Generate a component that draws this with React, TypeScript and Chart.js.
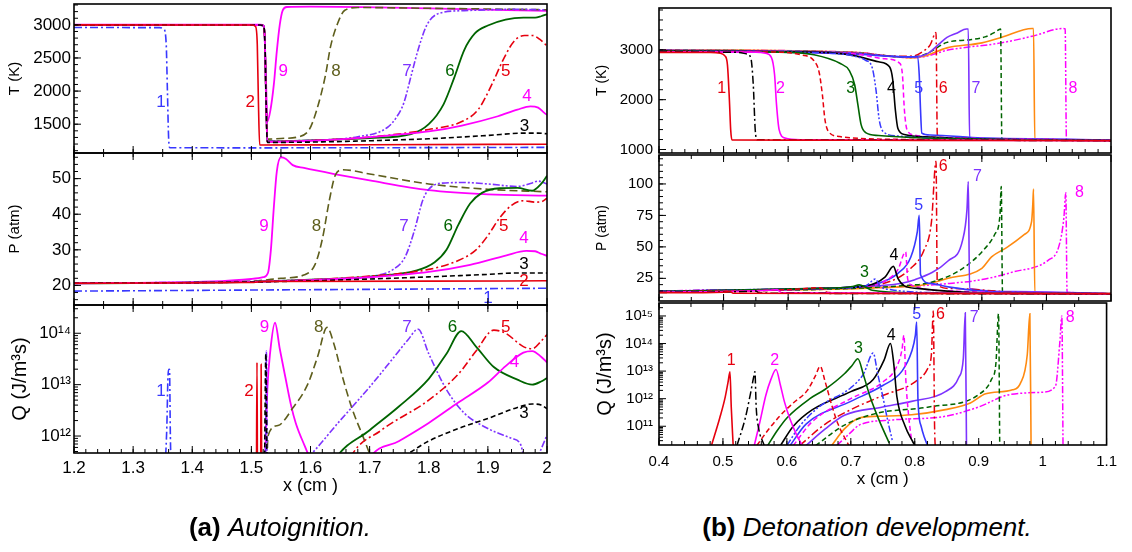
import React, { useEffect, useRef } from 'react';
import { Chart, registerables } from 'chart.js';

Chart.register(...registerables);
const FONT = "'Liberation Sans', Arial, Helvetica, sans-serif";
Chart.defaults.font.family = FONT;

// ---------------- (a) Autoignition data ----------------
const aXTicks = [1.2, 1.3, 1.4, 1.5, 1.6, 1.7, 1.8, 1.9, 2.0];
const aTTicks = [1500, 2000, 2500, 3000];
const aPTicks = [20, 30, 40, 50];
const aQTicks = [1e12, 1e13, 1e14];

const aT1 = [[1.2,2960],[1.345,2958],[1.352,2935],[1.356,2700],[1.358,2000],[1.36,1300],[1.362,1145],[1.5,1143],[1.8,1146],[2.0,1150]];
const aT2 = [[1.2,3000],[1.5,2998],[1.507,2975],[1.51,2700],[1.512,1800],[1.514,1185],[1.7,1190],[2.0,1198]];
const aT3 = [[1.2,3000],[1.515,2998],[1.521,2980],[1.523,2700],[1.525,1800],[1.527,1225],[1.6,1230],[1.7,1250],[1.8,1280],[1.9,1330],[1.96,1365],[1.985,1365],[2.0,1355]];
const aT4 = [[1.2,3000],[1.515,2998],[1.521,2980],[1.523,2700],[1.525,1800],[1.527,1235],[1.6,1250],[1.7,1305],[1.8,1390],[1.856,1480],[1.917,1620],[1.95,1720],[1.972,1770],[1.985,1750],[1.995,1675],[2.0,1640]];
const aT5 = [[1.2,3000],[1.515,2998],[1.521,2980],[1.523,2700],[1.525,1800],[1.527,1235],[1.6,1252],[1.7,1305],[1.8,1420],[1.856,1540],[1.884,1725],[1.908,2125],[1.926,2475],[1.944,2750],[1.962,2840],[1.975,2840],[1.988,2780],[2.0,2680]];
const aT6 = [[1.2,3000],[1.515,2998],[1.521,2980],[1.523,2700],[1.525,1800],[1.527,1240],[1.6,1255],[1.7,1290],[1.77,1350],[1.8,1500],[1.825,1800],[1.843,2200],[1.86,2620],[1.878,2870],[1.9,2990],[1.93,3080],[1.96,3110],[1.98,3110],[1.99,3130],[2.0,3160]];
const aT7 = [[1.2,3000],[1.515,2998],[1.521,2980],[1.523,2700],[1.525,1800],[1.527,1245],[1.6,1258],[1.68,1310],[1.73,1450],[1.745,1600],[1.758,1825],[1.77,2225],[1.782,2625],[1.797,3000],[1.818,3175],[1.86,3215],[1.95,3235],[2.0,3225]];
const aT8 = [[1.2,3000],[1.515,2998],[1.521,2980],[1.523,2700],[1.525,1800],[1.527,1275],[1.55,1285],[1.58,1310],[1.598,1420],[1.61,1700],[1.625,2225],[1.634,2675],[1.646,3025],[1.658,3220],[1.68,3262],[1.8,3250],[2.0,3228]];
const aT9 = [[1.2,3005],[1.515,3003],[1.521,2985],[1.523,2700],[1.525,2100],[1.527,1540],[1.532,1700],[1.538,2100],[1.543,2600],[1.548,3000],[1.553,3220],[1.56,3270],[1.6,3275],[1.8,3250],[2.0,3210]];

const aP1 = [[1.2,18.4],[1.5,18.7],[1.8,19],[2.0,19.2]];
const aP2 = [[1.2,20.6],[1.5,20.8],[1.52,21.1],[1.8,21.2],[2.0,21.3]];
const aP3 = [[1.2,20.6],[1.5,20.95],[1.6,21.3],[1.7,21.8],[1.8,22.4],[1.9,23.1],[1.95,23.5],[2.0,23.5]];
const aP4 = [[1.2,20.6],[1.5,21],[1.6,21.5],[1.7,22.3],[1.8,23.8],[1.87,25.8],[1.93,28.4],[1.965,29.7],[1.98,29.6],[1.99,28.9],[2.0,28.3]];
const aP5 = [[1.2,20.6],[1.5,21],[1.6,21.6],[1.7,22.6],[1.8,24.5],[1.85,27],[1.88,30],[1.9,34],[1.92,39],[1.94,42.5],[1.96,43.8],[1.98,43.4],[1.99,43.5],[2.0,44.5]];
const aP6 = [[1.2,20.6],[1.5,21],[1.6,21.6],[1.7,22.5],[1.78,24.2],[1.81,26.5],[1.83,30],[1.85,37],[1.87,43],[1.89,46],[1.92,47.3],[1.95,47.4],[1.975,46.6],[1.99,48.5],[2.0,50.8]];
const aP7 = [[1.2,20.6],[1.5,21.1],[1.6,21.6],[1.7,22.5],[1.74,24.5],[1.76,28],[1.775,35],[1.79,44],[1.8,47],[1.82,48.7],[1.86,48.9],[1.9,48.5],[1.95,47.8],[1.975,48.8],[1.985,49.3],[2.0,48.5]];
const aP8 = [[1.2,20.6],[1.5,21.2],[1.55,22],[1.59,23],[1.608,26],[1.62,33],[1.632,44],[1.642,51],[1.655,52.5],[1.7,51.3],[1.8,48.5],[1.9,47],[2.0,46.3]];
const aP9 = [[1.2,20.6],[1.45,21.2],[1.5,21.8],[1.52,22.3],[1.528,23.5],[1.533,30],[1.538,42],[1.543,52],[1.55,56],[1.558,55.6],[1.57,53.8],[1.589,53],[1.65,51],[1.7,49.5],[1.8,46.8],[1.9,45.6],[2.0,45.2]];

const aQ1 = [[1.352,1e11],[1.357,1.5e12],[1.359,1.5e13],[1.3605,2e13],[1.3615,2e13],[1.363,1e12],[1.365,1e11]];
const aQ2 = [[1.5085,1e11],[1.5095,2.7e13],[1.5105,1e11],[1.5155,1e11],[1.5165,2.5e13],[1.5175,1e11]];
const aQ3 = [[1.522,1e11],[1.5245,4e13],[1.527,1e11],[1.75,3.7e11],[1.8,8e11],[1.85,1.4e12],[1.9,2.2e12],[1.95,3.6e12],[1.975,4.2e12],[1.99,4e12],[2.0,3.4e12]];
const aQ4 = [[1.68,1e11],[1.7,3.7e11],[1.75,8e11],[1.8,1.8e12],[1.85,4.5e12],[1.9,1.1e13],[1.93,2.3e13],[1.96,4.2e13],[1.975,4.5e13],[1.99,3.5e13],[2.0,2.7e13]];
const aQ5 = [[1.65,1e11],[1.667,3.7e11],[1.72,1.3e12],[1.8,5e12],[1.85,1.6e13],[1.88,4.5e13],[1.91,1.15e14],[1.93,1e14],[1.96,5.5e13],[1.975,5e13],[1.99,7e13],[2.0,9.5e13]];
const aQ6 = [[1.62,1e11],[1.643,3.7e11],[1.7,1.3e12],[1.75,3.8e12],[1.8,1.3e13],[1.83,4e13],[1.855,1.1e14],[1.88,5.5e13],[1.91,2.2e13],[1.95,1.25e13],[1.975,1e13],[1.99,1.15e13],[2.0,1.35e13]];
const aQ7 = [[1.5235,1e11],[1.5255,4.5e13],[1.527,1e11],[1.594,3.7e11],[1.65,2e12],[1.7,9e12],[1.74,3.3e13],[1.765,7.5e13],[1.782,1.2e14],[1.8,4e13],[1.83,8e12],[1.86,2.8e12],[1.9,1.4e12],[1.94,9e11],[1.955,7e11],[1.965,2.5e11],[1.975,2e11],[1.985,4e11],[2.0,1.05e12]];
const aQ8 = [[1.526,2e11],[1.528,1e12],[1.545,1.6e12],[1.57,3.5e12],[1.595,1e13],[1.612,3.5e13],[1.628,1.3e14],[1.64,6e13],[1.655,1.3e13],[1.67,3.5e12],[1.69,9e11],[1.7,4.5e11],[1.71,2e11]];
const aQ9 = [[1.522,1e11],[1.5245,1e12],[1.527,8e12],[1.532,4.5e13],[1.54,1.6e14],[1.548,5e13],[1.558,1.3e13],[1.567,4e12],[1.575,1.8e12],[1.59,6.5e11],[1.6,3.5e11],[1.62,1e11]];

// label: [number, curve index, x, y]
const aTLab = [[1,1,1.347,1830],[2,2,1.498,1830],[3,3,1.962,1465],[4,4,1.966,1925],[5,5,1.93,2300],[6,6,1.836,2300],[7,7,1.763,2300],[8,8,1.643,2300],[9,9,1.554,2300]];
const aPLab = [[1,1,1.9,16.4],[2,2,1.961,21.2],[3,3,1.961,26],[4,4,1.961,33.2],[5,5,1.927,36.5],[6,6,1.833,36.5],[7,7,1.758,36.5],[8,8,1.61,36.5],[9,9,1.5215,36.5]];
const aQLab = [[1,1,1.347,7.4e12],[2,2,1.496,7.4e12],[3,3,1.961,2.8e12],[4,4,1.945,2.7e13],[5,5,1.93,1.3e14],[6,6,1.84,1.3e14],[7,7,1.763,1.3e14],[8,8,1.614,1.3e14],[9,9,1.522,1.3e14]];

// ---------------- (b) Detonation development data ----------------
const bXTicks = [0.4, 0.5, 0.6, 0.7, 0.8, 0.9, 1.0, 1.1];
const bTTicks = [1000, 2000, 3000];
const bPTicks = [25, 50, 75, 100];
const bQTicks = [1e11, 1e12, 1e13, 1e14, 1e15];

const bT1 = [[0.4,2950],[0.48,2948],[0.495,2930],[0.502,2880],[0.506,2700],[0.509,2000],[0.511,1400],[0.513,1190],[0.6,1188],[0.8,1183],[1.1,1175]];
const bT2 = [[0.4,2955],[0.52,2950],[0.535,2920],[0.542,2850],[0.546,2300],[0.549,1400],[0.552,1195],[0.7,1190],[1.1,1178]];
const bT3 = [[0.4,2960],[0.55,2955],[0.565,2930],[0.574,2850],[0.579,2500],[0.582,1900],[0.586,1400],[0.595,1230],[0.62,1195],[0.8,1188],[1.1,1178]];
const bT4 = [[0.4,2965],[0.58,2955],[0.62,2900],[0.64,2780],[0.648,2550],[0.653,2100],[0.657,1600],[0.663,1350],[0.68,1260],[0.7,1230],[0.8,1200],[1.1,1180]];
const bT5 = [[0.4,2970],[0.6,2950],[0.64,2900],[0.68,2730],[0.695,2580],[0.703,2300],[0.708,1900],[0.713,1500],[0.72,1340],[0.74,1280],[0.8,1235],[0.9,1205],[1.1,1180]];
const bT6 = [[0.4,2975],[0.65,2940],[0.7,2880],[0.72,2790],[0.73,2650],[0.736,2200],[0.741,1600],[0.748,1350],[0.77,1270],[0.85,1220],[1.1,1182]];
const bT7 = [[0.4,2980],[0.65,2950],[0.7,2890],[0.74,2760],[0.757,2660],[0.762,2400],[0.766,1800],[0.77,1420],[0.78,1300],[0.82,1250],[0.9,1210],[1.1,1183]];
const bT8 = [[0.4,2985],[0.7,2920],[0.75,2820],[0.772,2740],[0.777,2500],[0.78,1800],[0.784,1400],[0.795,1290],[0.85,1240],[1.1,1185]];
const bT9 = [[0.4,2985],[0.7,2920],[0.76,2870],[0.795,2860],[0.8,2870],[0.803,2500],[0.805,1800],[0.807,1330],[0.82,1290],[0.9,1230],[1.1,1188]];
const bT10 = [[0.4,2990],[0.7,2930],[0.78,2870],[0.795,2880],[0.81,2980],[0.82,3100],[0.829,3350],[0.831,1300],[0.84,1230],[0.9,1215],[1.1,1188]];
const bT11 = [[0.4,2995],[0.7,2940],[0.78,2860],[0.8,2860],[0.81,2890],[0.82,2960],[0.834,3120],[0.846,3250],[0.862,3340],[0.876,3420],[0.879,3420],[0.881,1240],[0.9,1225],[1.1,1190]];
const bT12 = [[0.4,2995],[0.7,2945],[0.79,2850],[0.805,2880],[0.82,2960],[0.846,3150],[0.88,3200],[0.905,3260],[0.92,3350],[0.929,3420],[0.931,1220],[1.1,1190]];
const bT13 = [[0.4,3000],[0.7,2950],[0.79,2840],[0.81,2870],[0.846,3040],[0.9,3140],[0.93,3250],[0.978,3430],[0.98,3430],[0.982,1200],[1.1,1185]];
const bT14 = [[0.4,3000],[0.7,2955],[0.79,2840],[0.81,2860],[0.846,2990],[0.93,3140],[0.98,3280],[1.026,3430],[1.029,3420],[1.031,1200],[1.1,1190]];

const bP1 = [[0.4,13.5],[0.5,14],[0.51,14.5],[0.515,13.2],[0.7,13],[1.1,12.8]];
const bP2 = [[0.4,13.8],[0.54,14.6],[0.55,15],[0.555,13.3],[1.1,12.8]];
const bP3 = [[0.4,14],[0.57,15.5],[0.583,16],[0.59,13.5],[1.1,12.8]];
const bP4 = [[0.4,14.2],[0.6,16],[0.65,17.5],[0.66,14],[0.7,13.2],[1.1,12.8]];
const bP5 = [[0.4,14.5],[0.6,16.5],[0.68,17.5],[0.7,18.5],[0.71,19.8],[0.72,18],[0.73,15.5],[0.8,13.5],[1.1,12.8]];
const bP6 = [[0.4,14.8],[0.65,17],[0.72,19],[0.735,24.5],[0.742,19],[0.76,16],[0.85,13.5],[1.1,12.8]];
const bP7 = [[0.4,14.5],[0.65,17],[0.72,19],[0.75,26],[0.763,34.5],[0.77,25],[0.78,19],[0.8,17],[0.9,13.5],[1.1,12.8]];
const bP8 = [[0.4,15],[0.7,18],[0.75,23],[0.77,32],[0.782,46],[0.785,25],[0.79,20],[0.85,15],[1.1,12.8]];
const bP9 = [[0.4,14.7],[0.7,18],[0.74,21],[0.77,29],[0.79,42],[0.8,62],[0.803,75],[0.805,28],[0.82,21],[0.85,18],[0.9,15],[1.1,12.8]];
const bP10 = [[0.4,15],[0.7,18],[0.76,23],[0.79,33],[0.81,47],[0.822,70],[0.829,118],[0.831,20],[0.85,17],[0.95,14],[1.1,12.8]];
const bP11 = [[0.4,14.8],[0.75,19.5],[0.795,23.7],[0.848,39],[0.87,55],[0.877,80],[0.879,102],[0.881,17],[0.95,14.5],[1.1,13]];
const bP12 = [[0.4,14.6],[0.8,20],[0.85,27],[0.876,35],[0.9,46],[0.92,60],[0.928,75],[0.93,98],[0.932,14],[1.1,13]];
const bP13 = [[0.4,14.8],[0.8,19],[0.848,25],[0.9,33],[0.915,42],[0.94,50],[0.966,60],[0.977,70],[0.979,85],[0.98,96],[0.982,14],[1.1,13.2]];
const bP14 = [[0.4,15],[0.8,19],[0.85,21],[0.9,24],[0.948,30],[1.003,39.5],[1.019,50],[1.027,73],[1.03,93],[1.032,14],[1.1,13]];

const bQ1 = [[0.482,2e10],[0.495,2e11],[0.503,1e12],[0.508,4e12],[0.511,9.5e12],[0.513,5e11],[0.516,2e10]];
const bQ2 = [[0.522,2e10],[0.535,2e11],[0.543,1.5e12],[0.548,6e12],[0.55,9.5e12],[0.552,5e11],[0.556,8e10],[0.563,2.5e10],[0.57,1e10]];
const bQ3 = [[0.549,2e10],[0.558,1.5e11],[0.567,1.3e12],[0.575,5e12],[0.583,1.15e13],[0.59,3e12],[0.596,8e11],[0.605,1.8e11],[0.615,5e10],[0.624,2e10]];
const bQ4 = [[0.553,2e10],[0.57,7e10],[0.59,2.5e11],[0.61,7e11],[0.632,2e12],[0.645,7e12],[0.652,1.5e13],[0.66,4e12],[0.67,6e11],[0.68,1.2e11],[0.69,4e10],[0.7,1.5e10]];
const bQ5 = [[0.57,2e10],[0.585,7e10],[0.6,2e11],[0.636,1e12],[0.66,2.2e12],[0.69,8e12],[0.702,1.6e13],[0.711,2.8e13],[0.72,7e12],[0.73,1.2e12],[0.745,1.5e11],[0.76,2.5e10]];
const bQ6 = [[0.6,2e10],[0.62,1e11],[0.65,5e11],[0.7,2.5e12],[0.72,8e12],[0.735,4.5e13],[0.742,8e12],[0.75,1.2e12],[0.758,1.5e11],[0.765,3e10]];
const bQ7 = [[0.59,2e10],[0.61,1e11],[0.64,4e11],[0.7,1.8e12],[0.735,5e12],[0.752,2.5e13],[0.762,1e14],[0.767,2e13],[0.772,1.2e12],[0.785,1e11],[0.796,3e10],[0.8,2e10]];
const bQ8 = [[0.61,2e10],[0.64,1.5e11],[0.7,1e12],[0.75,4e12],[0.772,1.5e13],[0.78,6e13],[0.783,2e14],[0.786,5e12],[0.79,3e11],[0.795,3e10]];
const bQ9 = [[0.605,2e10],[0.63,1.2e11],[0.7,8e11],[0.75,3e12],[0.78,1e13],[0.795,5e13],[0.801,2e14],[0.803,6e14],[0.805,1e12],[0.81,1e11],[0.815,4e10],[0.82,2e10]];
const bQ10 = [[0.62,2e10],[0.66,1.2e11],[0.7,4e11],[0.75,1.3e12],[0.8,4e12],[0.82,1.2e13],[0.826,4e13],[0.829,1.5e15],[0.831,1e11],[0.833,1e10]];
const bQ11 = [[0.63,2e10],[0.66,8e10],[0.69,2.5e11],[0.75,5e11],[0.795,8e11],[0.848,1.8e12],[0.869,6e12],[0.876,3e13],[0.879,1.3e15],[0.881,1e10]];
const bQ12 = [[0.645,2e10],[0.69,1.1e11],[0.742,3e11],[0.822,5e11],[0.9,1.4e12],[0.92,5e12],[0.927,2e13],[0.931,1.2e15],[0.933,1e10]];
const bQ13 = [[0.67,2e10],[0.69,8e10],[0.713,2e11],[0.742,2.3e11],[0.795,2.6e11],[0.848,4e11],[0.887,7e11],[0.911,1.5e12],[0.953,2.1e12],[0.965,3.5e12],[0.976,4e13],[0.98,1.2e15],[0.982,1e10]];
const bQ14 = [[0.678,2e10],[0.7,6e10],[0.713,1.1e11],[0.766,1.7e11],[0.848,2.3e11],[0.9,5e11],[0.948,1.4e12],[0.997,1.7e12],[1.02,2.8e12],[1.027,1.2e14],[1.03,1e15],[1.032,1e10]];

const bTLab = [[1,1,0.497,2220],[2,3,0.588,2220],[3,5,0.697,2220],[4,7,0.76,2220],[5,9,0.802,2220],[6,10,0.84,2220],[7,11,0.891,2220],[8,14,1.041,2220]];
const bPLab = [[3,5,0.718,29.6],[4,7,0.764,43.3],[5,9,0.802,82.5],[6,10,0.84,113.4],[7,11,0.893,105.6],[8,14,1.051,92.8]];
const bQLab = [[1,1,0.513,2.4e13],[2,3,0.581,2.4e13],[3,5,0.712,6.3e13],[4,7,0.763,1.9e14],[5,9,0.803,1.15e15],[6,10,0.84,1.15e15],[7,11,0.893,8.7e14],[8,14,1.043,8.7e14]];

// ---------------- styles ----------------
const RED = '#e6000e', MAG = '#ff00ff', GRN = '#006400', BLU = '#3838ff', PUR = '#7d33ff', OLV = '#5e5e1c', ORG = '#ff8a10', BLK = '#000000';
const DD = [8, 3, 2, 3], DDD = [7, 2, 2, 2, 2, 2], DS = [5, 3], DSL = [8, 4], SO: number[] = [];
type Sty = { c: string; d: number[]; w: number };
const aSty: Sty[] = [
  { c: BLU, d: DD, w: 1.6 }, { c: RED, d: SO, w: 1.6 }, { c: BLK, d: DS, w: 1.6 }, { c: MAG, d: SO, w: 1.8 }, { c: RED, d: DD, w: 1.6 },
  { c: GRN, d: SO, w: 1.8 }, { c: PUR, d: DDD, w: 1.6 }, { c: OLV, d: DSL, w: 1.6 }, { c: MAG, d: SO, w: 1.8 },
];
const bSty: Sty[] = [
  { c: RED, d: SO, w: 1.6 }, { c: BLK, d: DD, w: 1.5 }, { c: MAG, d: SO, w: 1.6 }, { c: RED, d: DS, w: 1.5 }, { c: GRN, d: SO, w: 1.6 },
  { c: BLU, d: DDD, w: 1.5 }, { c: BLK, d: SO, w: 1.6 }, { c: MAG, d: DS, w: 1.5 }, { c: BLU, d: SO, w: 1.6 }, { c: RED, d: DD, w: 1.5 },
  { c: PUR, d: SO, w: 1.6 }, { c: GRN, d: DS, w: 1.5 }, { c: ORG, d: SO, w: 1.6 }, { c: MAG, d: DDD, w: 1.5 },
];

const SUP = '⁰¹²³⁴⁵⁶⁷⁸⁹';
const pow10Label = (v: number) => '10' + String(Math.round(Math.log10(v))).split('').map((d) => SUP[+d]).join('');
const numLabel = (v: number) => String(Number(Number(v).toFixed(2)));

type Spec = {
  key: string; left: number; top: number; w: number; h: number; axisW: number; padT: number; padB: number; padR: number;
  showX: boolean; xAxisH: number; xMin: number; xMax: number; xTicks: number[]; xMinorTop: number; xMinorBot: number;
  xTickSize: number; xTickPad: number; xTitleSize: number; xTitlePad: number;
  yLog: boolean; yMin: number; yMax: number; yTicks: number[]; yMinor: number; yTitle: string; yTitleSize: number; yTitlePad: number;
  yTickSize: number; yTickPad: number;
  curves: number[][][]; styles: Sty[]; labels: number[][]; labelSize: number;
};

function makeConfig(s: Spec): any {
  const deco = {
    id: 'deco' + s.key,
    afterDatasetsDraw(chart: any) {
      const { ctx, scales } = chart;
      ctx.save();
      ctx.font = `${s.labelSize}px ${FONT}`;
      ctx.textAlign = 'center';
      ctx.textBaseline = 'middle';
      for (const [n, ci, x, y] of s.labels) {
        ctx.fillStyle = s.styles[ci - 1].c;
        ctx.fillText(String(n), scales.x.getPixelForValue(x), scales.y.getPixelForValue(y));
      }
      ctx.restore();
    },
    afterDraw(chart: any) {
      const { ctx, chartArea: a, scales } = chart;
      const xs = scales.x, ys = scales.y;
      ctx.save();
      ctx.strokeStyle = '#000';
      ctx.lineWidth = 1;
      ctx.beginPath();
      const MAJ = 7, MIN = 4;
      for (const v of s.yTicks) {
        const p = ys.getPixelForValue(v);
        ctx.moveTo(a.left, p); ctx.lineTo(a.left + MAJ, p);
      }
      if (s.yLog) {
        for (let d = Math.floor(Math.log10(s.yMin)); d <= Math.ceil(Math.log10(s.yMax)); d++) {
          for (let m = 2; m <= 9; m++) {
            const v = m * Math.pow(10, d);
            if (v <= s.yMin || v >= s.yMax) continue;
            const p = ys.getPixelForValue(v);
            ctx.moveTo(a.left, p); ctx.lineTo(a.left + MIN, p);
          }
        }
      } else {
        for (let n = Math.ceil(s.yMin / s.yMinor); n * s.yMinor < s.yMax; n++) {
          const p = ys.getPixelForValue(n * s.yMinor);
          ctx.moveTo(a.left, p); ctx.lineTo(a.left + MIN, p);
        }
      }
      const edge = (y0: number, dir: number, step: number) => {
        if (step <= 0) return;
        for (const v of s.xTicks) {
          const p = xs.getPixelForValue(v);
          ctx.moveTo(p, y0); ctx.lineTo(p, y0 + dir * MAJ);
        }
        for (let n = Math.ceil(s.xMin / step - 1e-9); n * step < s.xMax - 1e-9; n++) {
          const p = xs.getPixelForValue(n * step);
          ctx.moveTo(p, y0); ctx.lineTo(p, y0 + dir * MIN);
        }
      };
      edge(a.bottom, -1, s.xMinorBot);
      edge(a.top, 1, s.xMinorTop);
      ctx.stroke();
      ctx.lineWidth = 1.6;
      ctx.strokeRect(a.left, a.top, a.right - a.left, a.bottom - a.top);
      ctx.restore();
    },
  };
  return {
    type: 'line',
    data: {
      datasets: s.curves.map((d, i) => ({
        data: d,
        borderColor: s.styles[i].c,
        borderDash: s.styles[i].d,
        borderWidth: s.styles[i].w,
        pointRadius: 0,
        pointHoverRadius: 0,
        fill: false,
        cubicInterpolationMode: 'monotone',
      })),
    },
    options: {
      responsive: false,
      maintainAspectRatio: false,
      animation: false,
      devicePixelRatio: 1,
      events: [],
      layout: { padding: { left: 0, top: s.padT, right: s.padR, bottom: s.showX ? 0 : s.padB } },
      plugins: { legend: { display: false }, tooltip: { enabled: false }, title: { display: false } },
      scales: {
        x: {
          type: 'linear',
          display: s.showX,
          bounds: 'data',
          min: s.xMin,
          max: s.xMax,
          afterBuildTicks: (sc: any) => { sc.ticks = s.xTicks.map((v) => ({ value: v })); },
          afterFit: (sc: any) => { sc.height = s.xAxisH; },
          grid: { display: false, drawTicks: false },
          border: { display: false },
          ticks: { autoSkip: false, maxRotation: 0, padding: s.xTickPad, color: '#000', font: { size: s.xTickSize, family: FONT }, callback: (v: any) => numLabel(v) },
          title: { display: true, text: 'x (cm )', color: '#000', font: { size: s.xTitleSize, family: FONT }, padding: { top: 0, bottom: s.xTitlePad } },
        },
        y: {
          type: s.yLog ? 'logarithmic' : 'linear',
          bounds: 'data',
          min: s.yMin,
          max: s.yMax,
          afterBuildTicks: (sc: any) => { sc.ticks = s.yTicks.map((v) => ({ value: v, major: false })); },
          afterFit: (sc: any) => { sc.width = s.axisW; },
          grid: { display: false, drawTicks: false },
          border: { display: false },
          ticks: { autoSkip: false, padding: s.yTickPad, color: '#000', font: { size: s.yTickSize, family: FONT }, callback: (v: any) => (s.yLog ? pow10Label(Number(v)) : numLabel(v)) },
          title: { display: true, text: s.yTitle, color: '#000', font: { size: s.yTitleSize, family: FONT }, padding: { top: s.yTitlePad, bottom: 0 } },
        },
      },
    },
    plugins: [deco],
  };
}

function SubChart({ spec }: { spec: Spec }) {
  const ref = useRef<HTMLCanvasElement>(null);
  useEffect(() => {
    const chart = new Chart(ref.current as HTMLCanvasElement, makeConfig(spec));
    return () => chart.destroy();
  }, [spec]);
  return (
    <canvas
      ref={ref}
      width={spec.w}
      height={spec.h}
      style={{ position: 'absolute', left: spec.left, top: spec.top, width: spec.w, height: spec.h }}
    />
  );
}

const PAD = 14;
const aBase = { left: 0, axisW: 74, w: 547 + PAD, padT: PAD, padB: PAD, padR: PAD, xMin: 1.2, xMax: 2.0, xTicks: aXTicks,
  xTickSize: 17, xTickPad: 5, xTitleSize: 18, xTitlePad: 6, yTickSize: 17, yTickPad: 3, labelSize: 17, styles: aSty };
const bBase = { left: 575, axisW: 84, w: 84 + 452 + PAD, padT: PAD, padB: PAD, padR: PAD, xMin: 0.4, xMax: 1.1, xTicks: bXTicks,
  xTickSize: 15, xTickPad: 8, xTitleSize: 17, xTitlePad: 5, yTickSize: 15, yTickPad: 6, labelSize: 16, styles: bSty };

const SPECS: Spec[] = [
  { ...aBase, key: 'aT', top: 4 - PAD, h: PAD + 149 + PAD, showX: false, xAxisH: 0, xMinorTop: 0, xMinorBot: 0.05,
    yLog: false, yMin: 1065, yMax: 3315, yTicks: aTTicks, yMinor: 100, yTitle: 'T (K)', yTitleSize: 15, yTitlePad: 6,
    curves: [aT1, aT2, aT3, aT4, aT5, aT6, aT7, aT8, aT9], labels: aTLab },
  { ...aBase, key: 'aP', top: 153 - PAD, h: PAD + 152 + PAD, showX: false, xAxisH: 0, xMinorTop: 0.05, xMinorBot: 0.05,
    yLog: false, yMin: 14.5, yMax: 57.2, yTicks: aPTicks, yMinor: 2, yTitle: 'P (atm)', yTitleSize: 15, yTitlePad: 6,
    curves: [aP1, aP2, aP3, aP4, aP5, aP6, aP7, aP8, aP9], labels: aPLab },
  { ...aBase, key: 'aQ', top: 305 - PAD, h: PAD + 148 + 50, showX: true, xAxisH: 50, xMinorTop: 0.05, xMinorBot: 0.02,
    yLog: true, yMin: Math.pow(10, 11.67), yMax: Math.pow(10, 14.55), yTicks: aQTicks, yMinor: 0, yTitle: 'Q (J/m³s)', yTitleSize: 20, yTitlePad: 8,
    curves: [aQ1, aQ2, aQ3, aQ4, aQ5, aQ6, aQ7, aQ8, aQ9], labels: aQLab },
  { ...bBase, key: 'bT', top: 7 - PAD, h: PAD + 147 + PAD, showX: false, xAxisH: 0, xMinorTop: 0, xMinorBot: 0.02,
    yLog: false, yMin: 930, yMax: 3840, yTicks: bTTicks, yMinor: 200, yTitle: 'T (K)', yTitleSize: 14, yTitlePad: 18.6,
    curves: [bT1, bT2, bT3, bT4, bT5, bT6, bT7, bT8, bT9, bT10, bT11, bT12, bT13, bT14], labels: bTLab },
  { ...bBase, key: 'bP', top: 154 - PAD, h: PAD + 148 + PAD, showX: false, xAxisH: 0, xMinorTop: 0.05, xMinorBot: 0.05,
    yLog: false, yMin: 7, yMax: 123, yTicks: bPTicks, yMinor: 5, yTitle: 'P (atm)', yTitleSize: 14, yTitlePad: 18.6,
    curves: [bP1, bP2, bP3, bP4, bP5, bP6, bP7, bP8, bP9, bP10, bP11, bP12, bP13, bP14], labels: bPLab },
  { ...bBase, key: 'bQ', top: 302 - PAD, h: PAD + 143 + 50, showX: true, xAxisH: 50, xMinorTop: 0.05, xMinorBot: 0.02,
    yLog: true, yMin: Math.pow(10, 10.32), yMax: Math.pow(10, 15.47), yTicks: bQTicks, yMinor: 0, yTitle: 'Q (J/m³s)', yTitleSize: 20, yTitlePad: 18,
    curves: [bQ1, bQ2, bQ3, bQ4, bQ5, bQ6, bQ7, bQ8, bQ9, bQ10, bQ11, bQ12, bQ13, bQ14], labels: bQLab },
];

export default function App() {
  const cap: React.CSSProperties = { position: 'absolute', top: 512, width: 500, textAlign: 'center', fontFamily: FONT, fontSize: 26, lineHeight: '30px', color: '#000', whiteSpace: 'nowrap' };
  return (
    <div style={{ position: 'absolute', left: 0, top: 0, width: 1132, height: 552, background: '#fff', overflow: 'hidden' }}>
      {SPECS.map((s) => (
        <SubChart key={s.key} spec={s} />
      ))}
      <div style={{ ...cap, left: 280 - 250 }}>
        <b>(a)</b> <i>Autoignition.</i>
      </div>
      <div style={{ ...cap, left: 867 - 250 }}>
        <b>(b)</b> <i>Detonation development.</i>
      </div>
    </div>
  );
}
